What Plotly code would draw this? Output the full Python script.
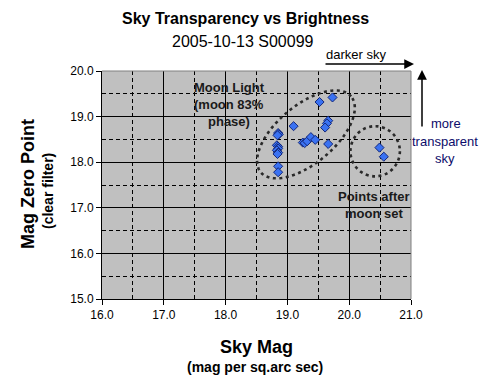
import numpy as np
import plotly.graph_objects as go

# ---- data ----
sky_mag = [18.85, 18.86, 18.84, 18.83, 18.85, 18.85, 18.83, 18.85, 18.84, 18.85, 18.85,
           19.10, 19.25, 19.28, 19.32, 19.38, 19.45, 19.52, 19.73, 19.66, 19.64, 19.61,
           19.66, 20.49, 20.56]
zero_point = [18.64, 18.61, 18.59, 18.37, 18.34, 18.30, 18.26, 18.21, 18.18, 17.91, 17.78,
              18.79, 18.43, 18.42, 18.46, 18.55, 18.49, 19.32, 19.42, 18.91, 18.85, 18.76,
              18.40, 18.32, 18.12]
x_range = [16, 21]
y_range = [15, 20]

W, H = 488, 392
L, R, T, B = 102, 77, 71, 93
PW, PH = W - L - R, H - T - B
FONT = "Arial, Liberation Sans, sans-serif"


def px(x, y):
    """pixel -> paper coords"""
    return (x - L) / PW, (H - B - y) / PH


fig = go.Figure()
fig.add_trace(go.Scatter(
    x=sky_mag, y=zero_point, mode="markers",
    marker=dict(symbol="diamond", size=7, color="#3a72f2",
                line=dict(color="#14287a", width=1)),
    hoverinfo="x+y", showlegend=False))

ann = []


def text(s, x, y, size, bold=False, color="#000000", angle=0):
    if bold:
        s = "<b>" + s + "</b>"
    xp, yp = px(x, y)
    ann.append(dict(text=s, x=xp, y=yp, xref="paper", yref="paper",
                    xanchor="center", yanchor="middle", showarrow=False,
                    textangle=angle, font=dict(family=FONT, size=size, color=color)))


NAVY = "#0c0c6a"
text("Sky Transparency vs Brightness", 245, 19, 16, bold=True)
text("2005-10-13 S00099", 243, 42, 16)
text("darker sky", 356, 54, 13)
text("more", 446, 123, 13, color=NAVY)
text("transparent", 445, 141, 13, color=NAVY)
text("sky", 445, 158, 13, color=NAVY)
text("Moon Light", 229, 87, 13, bold=True, color="#1a1a1a")
text("(moon 83%", 229, 104, 13, bold=True, color="#1a1a1a")
text("phase)", 229, 121, 13, bold=True, color="#1a1a1a")
text("Points after", 374, 196, 13, bold=True, color="#1a1a1a")
text("moon set", 374, 213, 13, bold=True, color="#1a1a1a")
text("Sky Mag", 256, 347, 18, bold=True)
text("(mag per sq.arc sec)", 255, 367, 14, bold=True)
text("Mag Zero Point", 28, 184, 18, bold=True, angle=-90)
text("(clear filter)", 48, 191, 14, bold=True, angle=-90)

# arrows
xa, ya = px(414, 64)
ann.append(dict(x=xa, y=ya, xref="paper", yref="paper", ax=-90, ay=0, text="",
                showarrow=True, arrowhead=2, arrowsize=1.3, arrowwidth=1.5, arrowcolor="#000"))
xa, ya = px(422, 70)
ann.append(dict(x=xa, y=ya, xref="paper", yref="paper", ax=0, ay=58, text="",
                showarrow=True, arrowhead=2, arrowsize=1.3, arrowwidth=1.5, arrowcolor="#000"))

# ellipses (dotted)
sx = PW / (x_range[1] - x_range[0])
sy = PH / (y_range[1] - y_range[0])
cx, cy, a, b, th = 19.30, 18.61, 59, 29, np.deg2rad(40)
t = np.linspace(0, 2 * np.pi, 120)
ex = cx + (a * np.cos(t) * np.cos(th) - b * np.sin(t) * np.sin(th)) / sx
ey = cy + (a * np.cos(t) * np.sin(th) + b * np.sin(t) * np.cos(th)) / sy
path = "M " + " L ".join(f"{u:.4f},{v:.4f}" for u, v in zip(ex, ey)) + " Z"
dot = dict(color="#2a2a2a", width=2.6, dash="3px,3.5px")
shapes = [
    dict(type="path", path=path, xref="x", yref="y", line=dot),
    dict(type="circle", xref="x", yref="y", x0=20.02, x1=20.82, y0=17.69, y1=18.79, line=dot),
    dict(type="line", xref="paper", yref="paper", x0=0, x1=1, y0=1, y1=1,
         line=dict(color="#808080", width=1)),
    dict(type="line", xref="paper", yref="paper", x0=1, x1=1, y0=0, y1=1,
         line=dict(color="#808080", width=1)),
]

axis_common = dict(
    dtick=1, tickformat=".1f", showgrid=True, gridcolor="#000000", gridwidth=1,
    showline=True, linecolor="#000000", linewidth=1,
    ticks="outside", ticklen=5, tickcolor="#000000",
    tickfont=dict(family=FONT, size=12, color="#000000"),
    minor=dict(dtick=0.5, showgrid=True, gridcolor="#000000", gridwidth=1, griddash="4px,3px"),
    zeroline=False, fixedrange=True,
)

fig.update_layout(
    width=W, height=H, margin=dict(l=L, r=R, t=T, b=B),
    paper_bgcolor="#ffffff", plot_bgcolor="#c0c0c0",
    xaxis=dict(range=x_range, tick0=16, **axis_common),
    yaxis=dict(range=y_range, tick0=15, **axis_common),
    annotations=ann, shapes=shapes, showlegend=False,
)

fig.write_html("out.html", config={"displayModeBar": False},
               post_script="document.body.style.margin='0';document.body.style.overflow='hidden';")
